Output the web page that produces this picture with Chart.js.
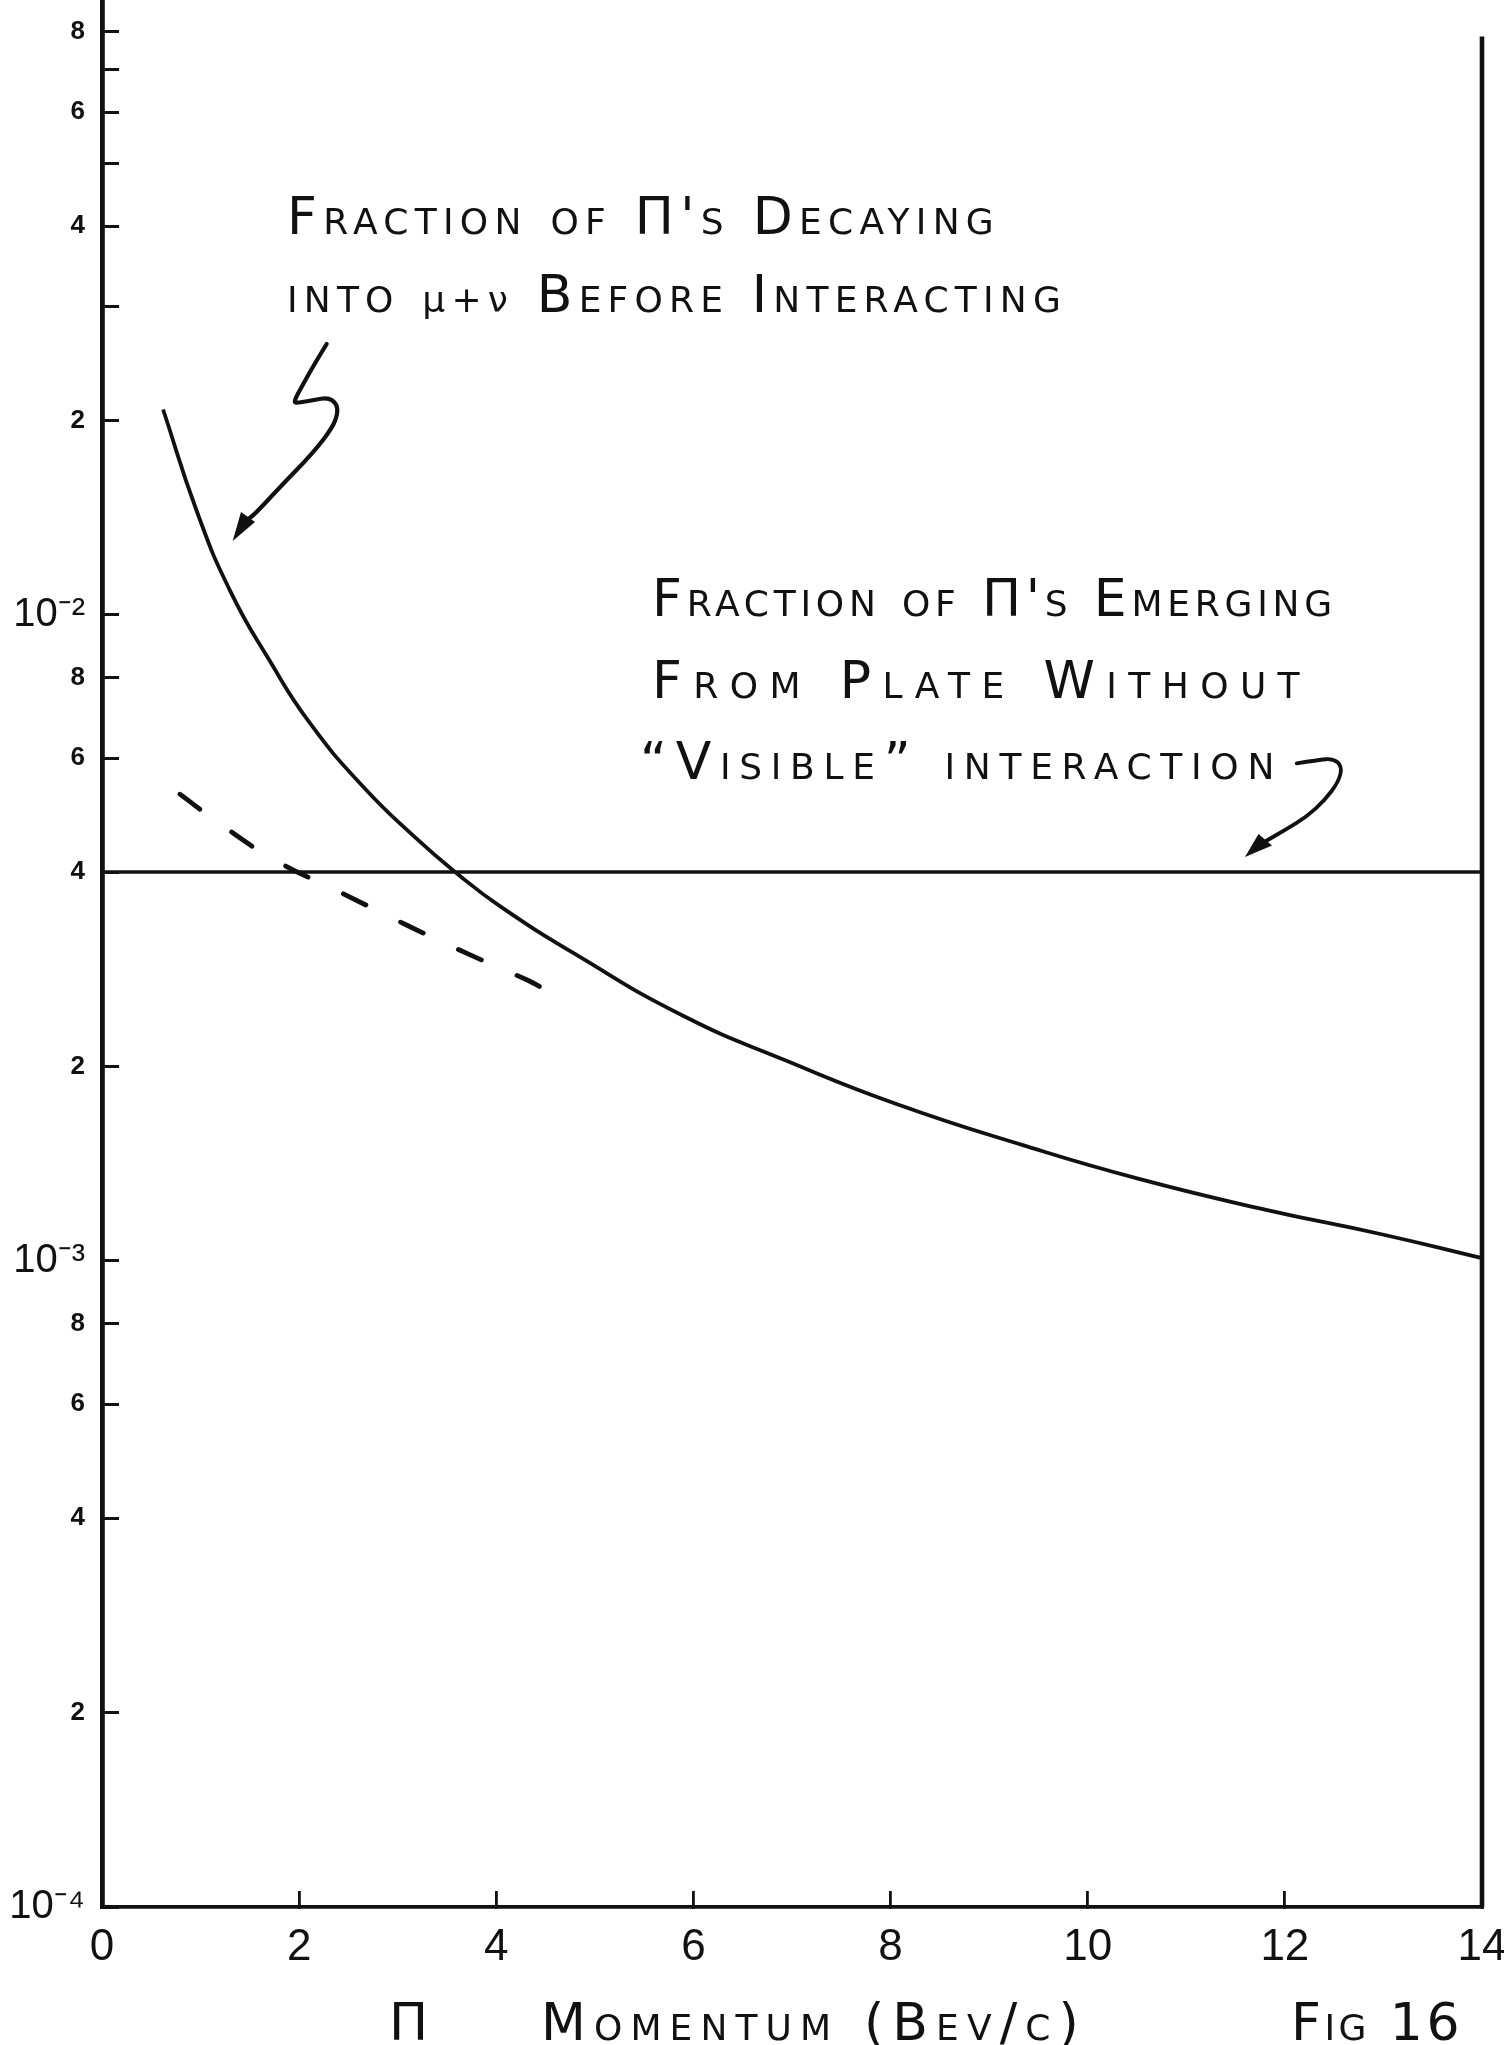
<!DOCTYPE html>
<html>
<head>
<meta charset="utf-8">
<title>Fig 16 — Π momentum</title>
<script src="https://cdn.jsdelivr.net/npm/chart.js@4.4.1/dist/chart.umd.min.js"></script>
<style>
  html, body { margin: 0; padding: 0; background: #fff; }
  #wrap { width: 1504px; height: 2045px; position: relative; }
  canvas { display: block; }
</style>
</head>
<body>
<div id="wrap"><canvas id="fig" width="1504" height="2045"></canvas></div>
<script>
// Π momentum (BeV/c) and fraction of Π's decaying into μ+ν before interacting
const decayMomentum = [0.62, 0.96, 1.30, 1.70, 2.11, 2.65, 3.16, 3.61, 4.04, 4.81, 5.91, 6.95, 8.06, 9.35, 10.52, 11.81, 12.98, 14.0];
const decayFraction = [0.0208, 0.0145, 0.0109, 0.0085, 0.0068, 0.00542, 0.00455, 0.00397, 0.00354, 0.00298, 0.00239, 0.00204, 0.00175, 0.00151, 0.00134, 0.00120, 0.00110, 0.00101];

// dashed companion curve
const dashedMomentum = [0.79, 1.23, 1.77, 2.42, 3.11, 3.73, 4.32, 4.44];
const dashedFraction = [0.00528, 0.00471, 0.00416, 0.00372, 0.00330, 0.00298, 0.00272, 0.00266];

// fraction of Π's emerging from plate without "visible" interaction
const emergingMomentum = [0, 14];
const emergingFraction = [0.004, 0.004];

// right-hand frame line
const frameMomentum = [14, 14];
const frameFraction = [0.0001, 0.0786];

// axes
const xRange = [0, 14];
const yRange = [0.0001, 0.0889];
const xTickValues = [0, 2, 4, 6, 8, 10, 12, 14];
const xTickLabels = ['0', '2', '4', '6', '8', '10', '12', '14'];
const yTickValues = [1e-4, 2e-4, 4e-4, 6e-4, 8e-4, 1e-3, 2e-3, 4e-3, 6e-3, 8e-3, 1e-2, 2e-2, 3e-2, 4e-2, 5e-2, 6e-2, 7e-2, 8e-2];
const yTickLabels = ['10⁻⁴', '2', '4', '6', '8', '10⁻³', '2', '4', '6', '8', '10⁻²', '2', '', '4', '', '6', '', '8'];

const ink = '#111';
const pts = (xs, ys) => xs.map((x, i) => ({ x: x, y: ys[i] }));

// Hand-lettered annotations, drawn in small capitals
const SC = "small-caps 52px 'DejaVu Sans'";
const GREEK = "36px 'DejaVu Sans'";

function drawRuns(g, runs, x, y, width) {
  const hasSpacing = 'letterSpacing' in g;
  if (hasSpacing) g.letterSpacing = '0px';
  let natural = 0, chars = 0;
  for (const [t, f] of runs) { g.font = f; natural += g.measureText(t).width; chars += [...t].length; }
  const gap = (width - natural) / Math.max(1, chars);
  let cx = x;
  for (const [t, f] of runs) {
    g.font = f;
    if (hasSpacing) {
      g.letterSpacing = gap + 'px';
      g.fillText(t, cx, y);
      cx += g.measureText(t).width;
    } else {
      for (const ch of [...t]) { g.fillText(ch, cx, y); cx += g.measureText(ch).width + gap; }
    }
  }
  if (hasSpacing) g.letterSpacing = '0px';
}

function smoothStroke(g, p, w) {
  g.lineWidth = w; g.lineCap = 'round'; g.lineJoin = 'round';
  g.beginPath();
  g.moveTo(p[0][0], p[0][1]);
  for (let i = 1; i < p.length - 1; i++) {
    const mx = (p[i][0] + p[i + 1][0]) / 2, my = (p[i][1] + p[i + 1][1]) / 2;
    g.quadraticCurveTo(p[i][0], p[i][1], mx, my);
  }
  g.lineTo(p[p.length - 1][0], p[p.length - 1][1]);
  g.stroke();
}

function head(g, tri) {
  g.beginPath();
  g.moveTo(tri[0][0], tri[0][1]);
  g.lineTo(tri[1][0], tri[1][1]);
  g.lineTo(tri[2][0], tri[2][1]);
  g.closePath();
  g.fill();
}

const notes = {
  id: 'notes',
  afterDraw(chart) {
    const g = chart.ctx;
    g.save();
    g.fillStyle = ink;
    g.strokeStyle = ink;
    g.textAlign = 'left';
    g.textBaseline = 'alphabetic';

    // label for the decay curve
    drawRuns(g, [["Fraction of Π's Decaying", SC]], 287, 234, 713);
    drawRuns(g, [["into ", SC], ["μ+ν", GREEK], [" Before Interacting", SC]], 287, 312, 780);

    // label for the horizontal line
    drawRuns(g, [["Fraction of Π's Emerging", SC]], 652, 616, 685);
    drawRuns(g, [["From Plate Without", SC]], 652, 698, 659);
    drawRuns(g, [["“Visible” interaction", SC]], 640, 779, 643);

    // axis title and figure number
    drawRuns(g, [["Π", SC]], 389, 2040, 44);
    drawRuns(g, [["Momentum (Bev/c)", SC]], 541, 2040, 546);
    drawRuns(g, [["Fig 16", SC]], 1291, 2040, 172);

    // zig-zag pointer onto the decay curve
    smoothStroke(g, [[326.7, 344], [315, 363], [301, 388], [293, 403], [300, 402.5], [314, 400], [328, 397.5], [336, 403], [338, 412],
                     [333, 427], [313, 453], [281, 486], [255, 514], [247, 520]], 4.2);
    head(g, [[232.7, 541], [241, 512], [255, 522]]);

    // hooked pointer onto the horizontal line
    smoothStroke(g, [[1296.7, 763.3], [1318, 760], [1333, 758.5], [1342, 766], [1339, 781], [1325, 800], [1306.7, 816.7],
                     [1285, 830], [1266, 841]], 3.8);
    head(g, [[1245, 857], [1258.5, 834], [1272, 845.5]]);

    g.restore();
  }
};

new Chart(document.getElementById('fig'), {
  type: 'line',
  data: {
    datasets: [
      {
        label: "Π's decaying into μ+ν",
        data: pts(decayMomentum, decayFraction),
        borderColor: ink, borderWidth: 3.8, pointRadius: 0,
        tension: 0.5, fill: false, clip: 10
      },
      {
        label: 'dashed',
        data: pts(dashedMomentum, dashedFraction),
        borderColor: ink, borderWidth: 4.8, pointRadius: 0,
        borderDash: [25, 39], borderCapStyle: 'round',
        tension: 0.4, fill: false, clip: 10
      },
      {
        label: "Π's emerging without visible interaction",
        data: pts(emergingMomentum, emergingFraction),
        borderColor: ink, borderWidth: 3.4, pointRadius: 0, fill: false, clip: 10
      },
      {
        label: 'frame',
        data: pts(frameMomentum, frameFraction),
        borderColor: ink, borderWidth: 4.6, pointRadius: 0, fill: false, clip: false
      }
    ]
  },
  options: {
    responsive: false,
    animation: false,
    devicePixelRatio: 1,
    layout: { padding: { left: 0, top: 2, right: 22, bottom: 0 } },
    plugins: { legend: { display: false }, tooltip: { enabled: false } },
    scales: {
      x: {
        type: 'linear',
        min: xRange[0], max: xRange[1],
        afterBuildTicks: s => { s.ticks = xTickValues.map(v => ({ value: v })); },
        afterFit: s => { s.height = 138; s.paddingLeft = 0; s.paddingRight = 0; },
        ticks: {
          callback: (v, i) => xTickLabels[i],
          font: { family: 'Liberation Sans', size: 44 },
          color: ink, padding: 30, maxRotation: 0, autoSkip: false
        },
        grid: { drawOnChartArea: false, drawTicks: true, tickLength: -16, color: ink, lineWidth: 2.8 },
        border: { display: true, color: ink, width: 3.8 }
      },
      y: {
        type: 'logarithmic',
        min: yRange[0], max: yRange[1],
        afterBuildTicks: s => { s.ticks = yTickValues.map(v => ({ value: v })); },
        afterFit: s => { s.width = 102; s.paddingTop = 0; s.paddingBottom = 0; },
        ticks: {
          callback: (v, i) => yTickLabels[i],
          font: c => (String(yTickLabels[c.index] || '').startsWith('10'))
            ? { family: 'Liberation Sans', size: 40 }
            : { family: 'Liberation Sans', size: 26, weight: 'bold' },
          color: ink, padding: 34, autoSkip: false
        },
        grid: { drawOnChartArea: false, drawTicks: true, tickLength: -17, color: ink, lineWidth: 3 },
        border: { display: true, color: ink, width: 4.8 }
      }
    }
  },
  plugins: [notes]
});
</script>
</body>
</html>
